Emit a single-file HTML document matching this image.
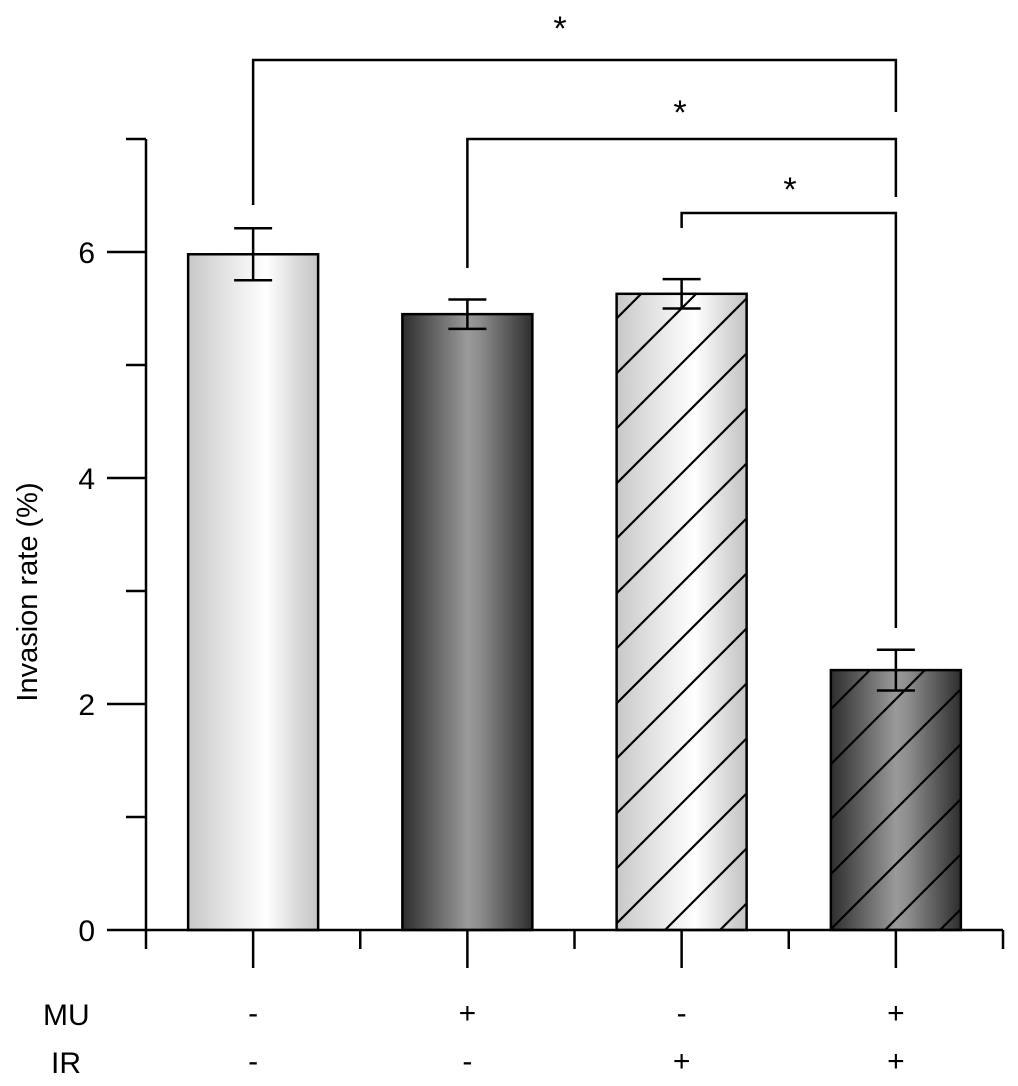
<!DOCTYPE html>
<html><head><meta charset="utf-8"><style>
html,body{margin:0;padding:0;background:#fff}
svg{display:block;font-family:"Liberation Sans",Arial,sans-serif}
</style></head><body>
<svg id="chart" width="1018" height="1086" viewBox="0 0 1018 1086">
<defs>
<linearGradient id="gLight" x1="0" x2="1" y1="0" y2="0">
<stop offset="0" stop-color="#c8c8c8"/><stop offset="0.25" stop-color="#e0e0e0"/><stop offset="0.6" stop-color="#ffffff"/><stop offset="0.85" stop-color="#d8d8d8"/><stop offset="1" stop-color="#c4c4c4"/>
</linearGradient>
<linearGradient id="gDark" x1="0" x2="1" y1="0" y2="0">
<stop offset="0" stop-color="#2e2e2e"/><stop offset="0.5" stop-color="#9a9a9a"/><stop offset="0.6" stop-color="#8c8c8c"/><stop offset="1" stop-color="#2e2e2e"/>
</linearGradient>
<pattern id="hatch" patternUnits="userSpaceOnUse" width="55" height="55">
<path d="M-5,5 L5,-5 M0,55 L55,0 M50,60 L60,50" stroke="#000" stroke-width="2.2"/>
</pattern>
</defs>
<g id="plot"></g>
</svg>
<script>
const categories = ["MU- IR-", "MU+ IR-", "MU- IR+", "MU+ IR+"];
const values = [5.98, 5.45, 5.63, 2.30];
const errors = [0.23, 0.13, 0.13, 0.18];
const fills = ["light", "dark", "light", "dark"];
const hatched = [false, false, true, true];
const muLabels = ["-", "+", "-", "+"];
const irLabels = ["-", "-", "+", "+"];
const yTicks = [0, 2, 4, 6];
const yMinor = [1, 3, 5, 7];

const NS = "http://www.w3.org/2000/svg";
const g = document.getElementById("plot");
const x0 = 146, x1 = 1003, y0 = 930, pxPerUnit = 113;
const slot = (x1 - x0) / categories.length;
const xc = i => x0 + slot * (i + 0.5);
const y = v => y0 - v * pxPerUnit;
const barW = 130;
function el(tag, attrs, parent) {
  const e = document.createElementNS(NS, tag);
  for (const k in attrs) e.setAttribute(k, attrs[k]);
  (parent || g).appendChild(e);
  return e;
}
const S = {stroke: "#000", "stroke-width": 2.5, fill: "none"};

categories.forEach((c, i) => {
  const bx = xc(i) - barW / 2, by = y(values[i]), bh = y0 - by;
  const b = el("rect", {x: bx, y: by, width: barW, height: bh, fill: fills[i] === "light" ? "url(#gLight)" : "url(#gDark)"});
  
  
  if (hatched[i]) {
    const h = el("rect", {x: bx, y: by, width: barW, height: bh, fill: "url(#hatch)"});
    
    
  }
  const o = el("rect", Object.assign({x: bx, y: by, width: barW, height: bh}, S));
  
  
  const yt = y(values[i] + errors[i]), yb = y(values[i] - errors[i]), cx = xc(i);
  const e = el("path", Object.assign({d: `M${cx},${yt}V${yb}M${cx-19},${yt}H${cx+19}M${cx-19},${yb}H${cx+19}`}, S));
  
  
  const t = el("path", Object.assign({d: `M${cx},${y0}V${y0+38}`}, S));
  
  
  const m = el("text", {x: cx, y: 1023, "font-size": 30, "text-anchor": "middle"});
  m.textContent = muLabels[i];
  
  
  const r = el("text", {x: cx, y: 1071, "font-size": 30, "text-anchor": "middle"});
  r.textContent = irLabels[i];
  
  
});
for (let i = 0; i <= categories.length; i++) {
  const t = el("path", Object.assign({d: `M${x0 + slot*i},${y0}V${y0+19}`}, S));
  
  
}
const ax = el("path", Object.assign({d: `M${x0},${y(7)}V${y0}H${x1}`}, S));


yTicks.forEach(v => {
  const t = el("path", Object.assign({d: `M${x0-39},${y(v)}H${x0}`}, S));
  
  
  const l = el("text", {x: 95, y: y(v) + 11, "font-size": 30, "text-anchor": "end"});
  l.textContent = v;
  
  
});
yMinor.forEach(v => {
  const t = el("path", Object.assign({d: `M${x0-20},${y(v)}H${x0}`}, S));
  
  
});
const yt = el("text", {x: 0, y: 0, "font-size": 29, "text-anchor": "middle", transform: "translate(37,592) rotate(-90)"});
yt.textContent = "Invasion rate (%)";


const mu = el("text", {x: 43, y: 1025, "font-size": 30});
mu.textContent = "MU";


const ir = el("text", {x: 51, y: 1073, "font-size": 30});
ir.textContent = "IR";



// significance brackets: [fromIndex, toIndex, bracketY, leftBottom, rightBottom, starX, starY]
const brackets = [[0, 3, 60, 205, 112, 560, 40], [1, 3, 139, 268, 197, 680, 124], [2, 3, 213, 228, 628, 790, 201]];
brackets.forEach(b => {
  const p = el("path", Object.assign({d: `M${xc(b[0])},${b[3]}V${b[2]}H${xc(b[1])}V${b[4]}`}, S));
  
  
  const s = el("text", {x: b[5], y: b[6], "font-size": 34, "text-anchor": "middle"});
  s.textContent = "*";
  
  
});
</script>
</body></html>
